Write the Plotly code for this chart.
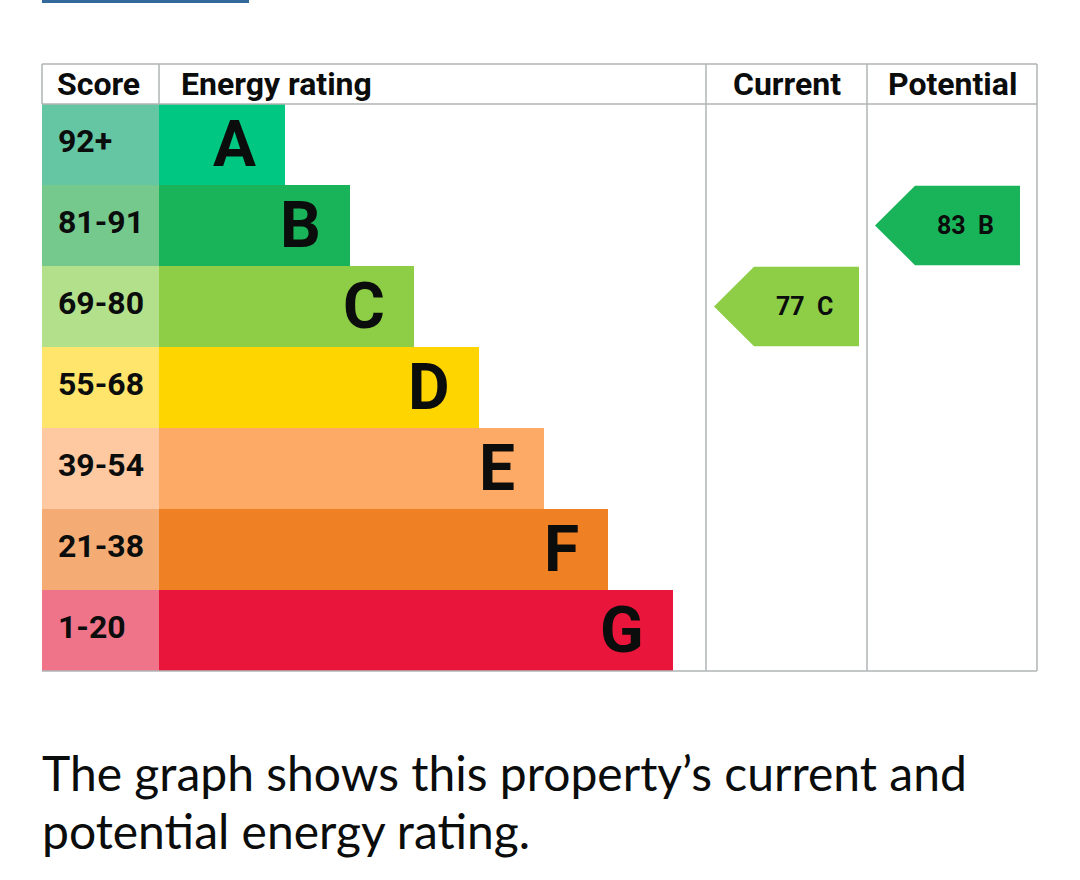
import plotly.graph_objects as go

# EPC bands, best to worst
bands = ["A", "B", "C", "D", "E", "F", "G"]
score_ranges = ["92+", "81-91", "69-80", "55-68", "39-54", "21-38", "1-20"]
band_min = [92, 81, 69, 55, 39, 21, 1]
bar_colors = ["#00c781", "#19b459", "#8dce46", "#ffd500", "#fcaa65", "#ef8023", "#e9153b"]
score_colors = ["#64c6a2", "#76c98d", "#b3e08a", "#ffe56b", "#fec9a0", "#f4ac74", "#f07489"]

current_score = 77
potential_score = 83
headers = ["Score", "Energy rating", "Current", "Potential"]
caption_lines = ["The graph shows this property\u2019s current and", "potential energy rating."]

# layout constants (pixels across, rows down)
W, H = 1080, 880
ROW_PX = 81
FIRST_ROW_CENTER = 144.5
COL_EDGES = [42, 159, 706, 867, 1037]
BAR_START, BAR_STEP = 126, 64.67
ARROW_W, ARROW_TIP = 145, 40
HEADER_ROWS = 40 / ROW_PX
GRID = "#b1b4b6"
FONT = "Roboto"
INK = "#0b0c0c"


def band_of(score):
    for i, m in enumerate(band_min):
        if score >= m:
            return i
    return len(bands) - 1


def px_to_row(py):
    return (py - FIRST_ROW_CENTER) / ROW_PX


idx = list(range(len(bands)))
bar_len = [BAR_START + BAR_STEP * i for i in idx]

fig = go.Figure()

# score column cells
fig.add_trace(go.Bar(
    y=idx, x=[COL_EDGES[1] - COL_EDGES[0]] * len(idx), base=COL_EDGES[0],
    orientation="h", width=1, marker=dict(color=score_colors, line=dict(width=0)),
    hoverinfo="skip", showlegend=False,
))
# rating bars
fig.add_trace(go.Bar(
    y=idx, x=bar_len, base=COL_EDGES[1],
    orientation="h", width=1, marker=dict(color=bar_colors, line=dict(width=0)),
    hoverinfo="skip", showlegend=False,
))

annotations = []
for i in idx:
    annotations.append(dict(x=COL_EDGES[0] + 14, y=i - 0.04, text=score_ranges[i], showarrow=False,
                            xanchor="left", yanchor="middle",
                            font=dict(family=FONT, size=32, color=INK, weight="bold")))
    annotations.append(dict(x=COL_EDGES[1] + bar_len[i] - 27, y=i, text=bands[i], showarrow=False,
                            xanchor="right", yanchor="middle",
                            font=dict(family=FONT, size=64, color=INK, weight="bold")))

# current / potential arrows
for score, col in [(current_score, 2), (potential_score, 3)]:
    r = band_of(score)
    left = COL_EDGES[col] + 8
    right = left + ARROW_W
    fig.add_trace(go.Scatter(
        x=[left, left + ARROW_TIP, right, right, left + ARROW_TIP, left],
        y=[r, r - 0.49, r - 0.49, r + 0.49, r + 0.49, r],
        fill="toself", fillcolor=bar_colors[r], mode="lines", line=dict(width=0),
        hoverinfo="skip", showlegend=False,
    ))
    annotations.append(dict(x=right - 24, y=r, text=f"{score}\u00a0\u00a0{bands[r]}", showarrow=False,
                            xanchor="right", yanchor="middle",
                            font=dict(family=FONT, size=25, color=INK, weight="bold")))

# header texts
hy = -0.5 - HEADER_ROWS / 2
hfont = dict(family=FONT, size=32, color=INK, weight="bold")
annotations.append(dict(x=COL_EDGES[0] + 13, y=hy, text=headers[0], showarrow=False, xanchor="left", font=hfont))
annotations.append(dict(x=COL_EDGES[1] + 20, y=hy, text=headers[1], showarrow=False, xanchor="left", font=hfont))
annotations.append(dict(x=(COL_EDGES[2] + COL_EDGES[3]) / 2, y=hy, text=headers[2], showarrow=False, font=hfont))
annotations.append(dict(x=(COL_EDGES[3] + COL_EDGES[4]) / 2, y=hy, text=headers[3], showarrow=False, font=hfont))

# caption under the table, one annotation per line
for k, txt in enumerate(caption_lines):
    annotations.append(dict(x=40, y=px_to_row(772 + 58 * k), text=txt, showarrow=False,
                            xanchor="left", yanchor="middle",
                            font=dict(family="Lato", size=48, color=INK)))

# table grid
top = -0.5 - HEADER_ROWS
bottom = len(bands) - 0.5
line = dict(color=GRID, width=1.5)
shapes = [
    dict(type="line", x0=COL_EDGES[0], x1=COL_EDGES[-1], y0=top, y1=top, line=line),
    dict(type="line", x0=COL_EDGES[0], x1=COL_EDGES[-1], y0=-0.5, y1=-0.5, line=line),
    dict(type="line", x0=COL_EDGES[0], x1=COL_EDGES[-1], y0=bottom, y1=bottom, line=line),
    dict(type="line", x0=COL_EDGES[0], x1=COL_EDGES[0], y0=top, y1=-0.5, line=line),
    dict(type="line", x0=COL_EDGES[1], x1=COL_EDGES[1], y0=top, y1=-0.5, line=line),
    dict(type="line", x0=COL_EDGES[2], x1=COL_EDGES[2], y0=top, y1=bottom, line=line),
    dict(type="line", x0=COL_EDGES[3], x1=COL_EDGES[3], y0=top, y1=bottom, line=line),
    dict(type="line", x0=COL_EDGES[4], x1=COL_EDGES[4], y0=top, y1=bottom, line=line),
    # cropped blue strip at the very top
    dict(type="rect", xref="x", yref="paper", x0=42, x1=249, y0=1 - 3 / H, y1=1.0,
         fillcolor="#34699b", line=dict(width=0)),
]

fig.update_layout(
    width=W, height=H,
    margin=dict(l=0, r=0, t=0, b=0),
    paper_bgcolor="white", plot_bgcolor="white",
    barmode="overlay", bargap=0,
    xaxis=dict(range=[0, W], visible=False, fixedrange=True),
    yaxis=dict(range=[px_to_row(H), px_to_row(0)], visible=False, fixedrange=True),
    annotations=annotations,
    shapes=shapes,
)

fig.write_html("out.html", config={"displayModeBar": False},
               post_script="document.body.style.margin='0';")
